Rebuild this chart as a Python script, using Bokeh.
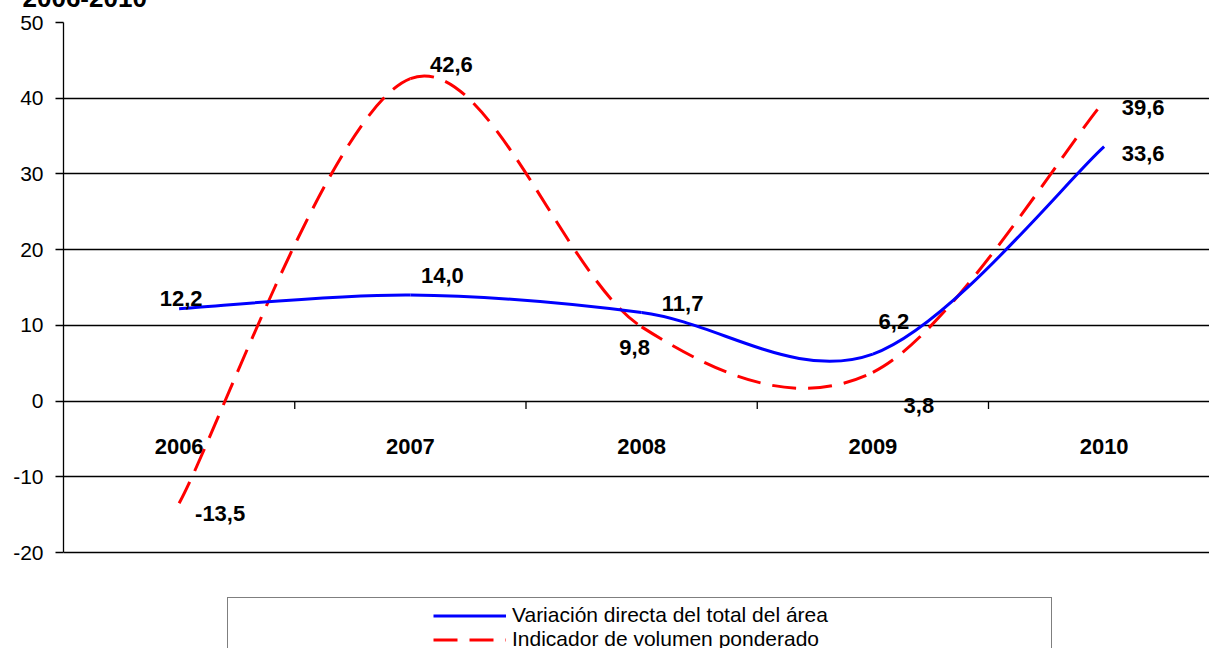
from bokeh.plotting import figure
from bokeh.models import Range1d, FixedTicker, ColumnDataSource, Legend, LegendItem, Title
from bokeh.embed import file_html
from bokeh.resources import INLINE
from bokeh.core.properties import value

# ---------------- data ----------------
title_text = "2006-2010"
years = ["2006", "2007", "2008", "2009", "2010"]
directa = [12.2, 14.0, 11.7, 6.2, 33.6]
ponderado = [-13.5, 42.6, 9.8, 3.8, 39.6]
y_ticks = [-20, -10, 0, 10, 20, 30, 40, 50]
series_names = ["Variación directa del total del área", "Indicador de volumen ponderado"]

# label placement offsets (pixels, x right / y down, relative to the point)
directa_label_dx = [2, 32, 41, 21, 39]
directa_label_dy = [-10, -20, -9, -33, 7]
ponderado_label_dx = [41, 41, -7, 46, 39]
ponderado_label_dy = [10, -14, 21, 33, 6]

FONT = "Liberation Sans"
BLUE = "#0000ff"
RED = "#ff0000"


def smooth_segments(vals):
    """Bezier control points (Catmull-Rom style, like Excel's smoothed line)."""
    n = len(vals)
    pts = [(float(i), float(v)) for i, v in enumerate(vals)]
    seg = dict(x0=[], y0=[], x1=[], y1=[], cx0=[], cy0=[], cx1=[], cy1=[])
    for i in range(n - 1):
        p0 = pts[i - 1] if i > 0 else pts[i]
        p1 = pts[i]
        p2 = pts[i + 1]
        p3 = pts[i + 2] if i + 2 < n else pts[i + 1]
        seg["x0"].append(p1[0]); seg["y0"].append(p1[1])
        seg["x1"].append(p2[0]); seg["y1"].append(p2[1])
        seg["cx0"].append(p1[0] + (p2[0] - p0[0]) / 6.0)
        seg["cy0"].append(p1[1] + (p2[1] - p0[1]) / 6.0)
        seg["cx1"].append(p2[0] - (p3[0] - p1[0]) / 6.0)
        seg["cy1"].append(p2[1] - (p3[1] - p1[1]) / 6.0)
    return ColumnDataSource(seg)


def fmt(v):
    return f"{v:.1f}".replace(".", ",")


idx = list(range(len(years)))
cat_px = 231.25
hidden_top = 50                      # figure is shifted up by this many pixels
fig_w, fig_h = 1209, 648 + hidden_top
left_b, top_b = 63, 22 + hidden_top
frame_w = fig_w - left_b
frame_h = fig_h - top_b              # frame runs to the bottom so the legend is not clipped
y_top, y_bot = max(y_ticks), min(y_ticks)
px_per_unit = 530.0 / (y_top - y_bot)

p = figure(width=fig_w, height=fig_h,
           x_range=Range1d(-0.5, -0.5 + frame_w / cat_px),
           y_range=Range1d(y_top - frame_h / px_per_unit, y_top),
           output_backend="svg", toolbar_location=None,
           x_axis_location=None, y_axis_location="left",
           min_border_left=left_b, min_border_right=0,
           min_border_top=top_b, min_border_bottom=0)
p.margin = (-hidden_top, 0, 0, 0)
p.outline_line_color = None
p.background_fill_color = "white"
p.border_fill_color = "white"

p.title = Title(text=title_text, align="left", offset=22 - left_b, standoff=32,
                vertical_align="bottom", text_font=FONT, text_font_style="bold",
                text_font_size="26px", text_color="black")

# y axis
p.yaxis.ticker = FixedTicker(ticks=y_ticks)
p.yaxis.bounds = (y_bot, y_top)
p.yaxis.major_label_overrides = {t: str(t) for t in y_ticks}
p.yaxis.axis_line_color = "black"
p.yaxis.axis_line_width = 1.3
p.yaxis.major_tick_line_color = "black"
p.yaxis.major_tick_line_width = 1.3
p.yaxis.major_tick_out = 8
p.yaxis.major_tick_in = 0
p.yaxis.minor_tick_line_color = None
p.yaxis.major_label_standoff = 12
p.yaxis.major_label_text_font = FONT
p.yaxis.major_label_text_font_size = "21px"
p.yaxis.major_label_text_color = "black"

# grid
p.xgrid.visible = False
p.ygrid.ticker = FixedTicker(ticks=y_ticks)
p.ygrid.grid_line_color = "black"
p.ygrid.grid_line_width = 1.3

# category tick marks on the zero line (between categories)
bounds = [i + 0.5 for i in idx[:-1]]
p.segment(x0=bounds, y0=[0] * len(bounds), x1=bounds, y1=[-1.05] * len(bounds),
          line_color="black", line_width=1.3)

# category labels
p.text(x=idx, y=[0] * len(idx), text=years, y_offset=45,
       text_font=value(FONT), text_font_style="bold", text_font_size="22px",
       text_align="center", text_baseline="alphabetic", text_color="black")

# smoothed series
r_red = p.bezier(x0="x0", y0="y0", x1="x1", y1="y1", cx0="cx0", cy0="cy0", cx1="cx1", cy1="cy1",
                 source=smooth_segments(ponderado), line_color=RED, line_width=3, line_dash="24 12")
r_blue = p.bezier(x0="x0", y0="y0", x1="x1", y1="y1", cx0="cx0", cy0="cy0", cx1="cx1", cy1="cy1",
                  source=smooth_segments(directa), line_color=BLUE, line_width=3)

# data labels
for vals, dxs, dys in [(directa, directa_label_dx, directa_label_dy),
                       (ponderado, ponderado_label_dx, ponderado_label_dy)]:
    src = ColumnDataSource(dict(x=idx, y=vals, t=[fmt(v) for v in vals], dx=dxs, dy=dys))
    p.text(x="x", y="y", text="t", x_offset="dx", y_offset="dy", source=src,
           text_font=value(FONT), text_font_style="bold", text_font_size="22px",
           text_align="center", text_baseline="alphabetic", text_color="black")

# ---------------- legend ----------------
frame_bottom_img = 648                   # image y of the frame bottom
box_w, box_h = 823, 52
box_left = 227 - 63                      # relative to frame left
legend_box = Legend(items=[LegendItem(label=" ", renderers=[r_blue])],
                    location=(box_left, frame_bottom_img - 599 - box_h),
                    border_line_color="black", border_line_width=1.3,
                    background_fill_color="white", background_fill_alpha=1.0,
                    padding=0, spacing=0, margin=0,
                    glyph_width=0, glyph_height=box_h, label_height=box_h,
                    label_width=box_w, label_standoff=0,
                    label_text_font_size="1px")
p.add_layout(legend_box)

item_h = 23
item_sp = -2
leg_h = 2 * item_h + item_sp
legend = Legend(items=[LegendItem(label=series_names[0], renderers=[r_blue]),
                       LegendItem(label=series_names[1], renderers=[r_red])],
                location=(433 - 63, frame_bottom_img - 607 - leg_h),
                border_line_color=None, background_fill_alpha=0,
                padding=0, spacing=item_sp, margin=0,
                glyph_width=73, glyph_height=item_h, label_height=item_h, label_standoff=6,
                label_text_font=FONT, label_text_font_size="21px", label_text_color="black")
p.add_layout(legend)

open("out.html", "w").write(file_html(p, INLINE))
